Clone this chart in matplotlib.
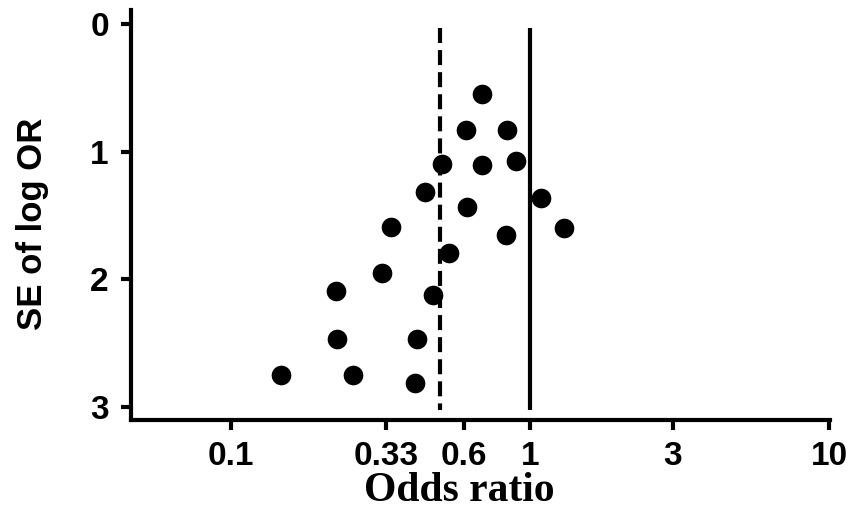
import numpy as np
import matplotlib.pyplot as plt

# funnel plot data
odds_ratio = [0.689, 0.611, 0.836, 0.507, 0.689, 0.896, 0.446, 1.088, 0.614, 0.342, 1.299,
              0.829, 0.536, 0.319, 0.2245, 0.473, 0.2257, 0.418, 0.1466, 0.255, 0.4125]
se_log_or = [0.551, 0.830, 0.830, 1.096, 1.104, 1.073, 1.316, 1.363, 1.431, 1.587, 1.597,
             1.652, 1.791, 1.948, 2.088, 2.122, 2.469, 2.467, 2.749, 2.749, 2.809]
pooled_or = 0.5
null_or = 1.0
x_ticks = [0.1, 0.33, 0.6, 1, 3, 10]
x_tick_labels = ["0.1", "0.33", "0.6", "1", "3", "10"]
y_ticks = [0, 1, 2, 3]

fig = plt.figure(figsize=(8.64, 5.12), dpi=100)
ax = fig.add_axes([0.1516, 0.1797, 0.809, 0.8008])

ax.scatter(odds_ratio, se_log_or, s=200, color="black", zorder=3, linewidths=0)
ax.plot([null_or, null_or], [0.03, 3.02], color="black", lw=3, solid_capstyle="butt")
ax.plot([pooled_or, pooled_or], [0.03, 3.02], color="black", lw=3,
        dashes=(3.6, 1.7), dash_capstyle="butt")

ax.set_xscale("log")
ax.set_xlim(0.0463, 10.05)
ax.set_ylim(3.1, -0.11)
ax.set_xticks(x_ticks)
ax.set_xticklabels(x_tick_labels)
ax.xaxis.set_minor_locator(plt.NullLocator())
ax.set_yticks(y_ticks)

for side in ["top", "right"]:
    ax.spines[side].set_visible(False)
for side in ["left", "bottom"]:
    ax.spines[side].set_linewidth(3)

ax.tick_params(axis="both", length=7, width=3, labelsize=24)
ax.tick_params(axis="x", pad=8)
ax.tick_params(axis="y", pad=9)
for lbl in ax.get_xticklabels() + ax.get_yticklabels():
    lbl.set_fontfamily("Liberation Sans")
    lbl.set_fontweight("bold")

ax.set_xlabel("Odds ratio", fontfamily="Liberation Serif", fontweight="bold", fontsize=30)
ax.xaxis.set_label_coords(0.47, -0.127)
ax.set_ylabel("SE of log OR", fontfamily="Liberation Sans", fontweight="bold", fontsize=25)
ax.yaxis.set_label_coords(-0.118, 0.478)

fig.savefig("out.png", dpi=100)
